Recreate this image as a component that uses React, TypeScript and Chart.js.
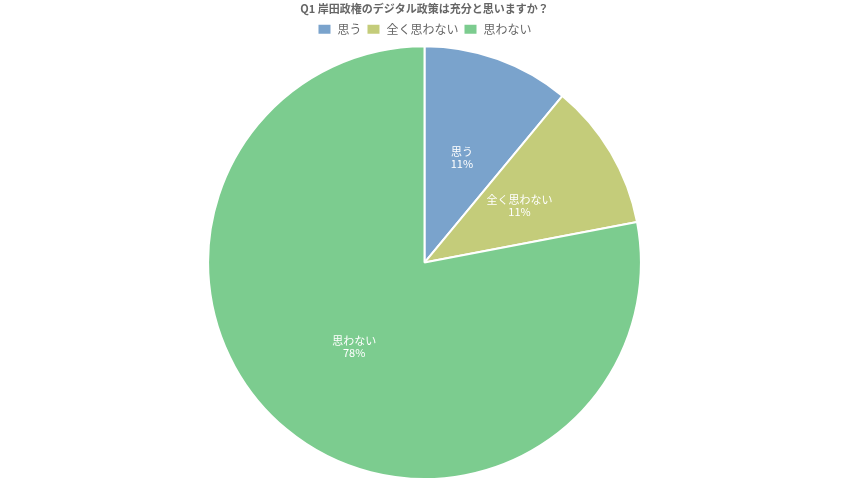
import React, { useEffect, useRef } from 'react';
import { Chart, ChartConfiguration, registerables, Plugin } from 'chart.js';

Chart.register(...registerables);

const TITLE = 'Q1 岸田政権のデジタル政策は充分と思いますか？';
const LABELS = ['思う', '全く思わない', '思わない'];
const VALUES = [11, 11, 78];
const COLORS = ['#7aa3cc', '#c4cc7a', '#7ccc8f'];

const FONT = '"Noto Sans CJK JP", "Noto Sans", sans-serif';

// draws "label / pct" text inside each slice
const sliceLabels: Plugin<'pie'> = {
  id: 'sliceLabels',
  afterDatasetsDraw(chart) {
    const ctx = chart.ctx;
    const meta = chart.getDatasetMeta(0);
    const total = VALUES.reduce((s, v) => s + v, 0);
    ctx.save();
    ctx.fillStyle = '#ffffff';
    ctx.font = `11px ${FONT}`;
    ctx.textAlign = 'center';
    ctx.textBaseline = 'middle';
    meta.data.forEach((arc: any, i) => {
      const mid = (arc.startAngle + arc.endAngle) / 2;
      const r = arc.outerRadius * 0.51;
      const x = arc.x + Math.cos(mid) * r;
      const y = arc.y + Math.sin(mid) * r;
      const pct = Math.round((VALUES[i] / total) * 100);
      ctx.fillText(LABELS[i], x, y - 7);
      ctx.fillText(`${pct}%`, x, y + 5);
    });
    ctx.restore();
  }
};

const App: React.FC = () => {
  const canvasRef = useRef<HTMLCanvasElement>(null);
  const chartRef = useRef<Chart | null>(null);

  useEffect(() => {
    document.body.style.margin = '0';
    if (!canvasRef.current) return;
    const ctx = canvasRef.current.getContext('2d');
    if (!ctx) return;

    const config: ChartConfiguration<'pie'> = {
      type: 'pie',
      data: {
        labels: LABELS,
        datasets: [{
          data: VALUES,
          backgroundColor: COLORS,
          borderColor: '#ffffff',
          borderWidth: 2
        }]
      },
      options: {
        responsive: true,
        maintainAspectRatio: false,
        animation: false,
        layout: { padding: 0 },
        plugins: {
          title: {
            display: true,
            text: TITLE,
            color: '#666666',
            font: { family: FONT, size: 11, weight: 'bold' },
            padding: { top: 2, bottom: 3 }
          },
          legend: {
            position: 'top',
            labels: {
              color: '#666666',
              font: { family: FONT, size: 12 },
              boxWidth: 14,
              boxHeight: 11,
              padding: 5
            }
          },
          tooltip: { enabled: false }
        }
      },
      plugins: [sliceLabels]
    };

    chartRef.current = new Chart(ctx, config);
    return () => {
      chartRef.current?.destroy();
      chartRef.current = null;
    };
  }, []);

  return (
    <div style={{ position: 'relative', width: 849, height: 480 }}>
      <canvas ref={canvasRef} />
    </div>
  );
};

export default App;
